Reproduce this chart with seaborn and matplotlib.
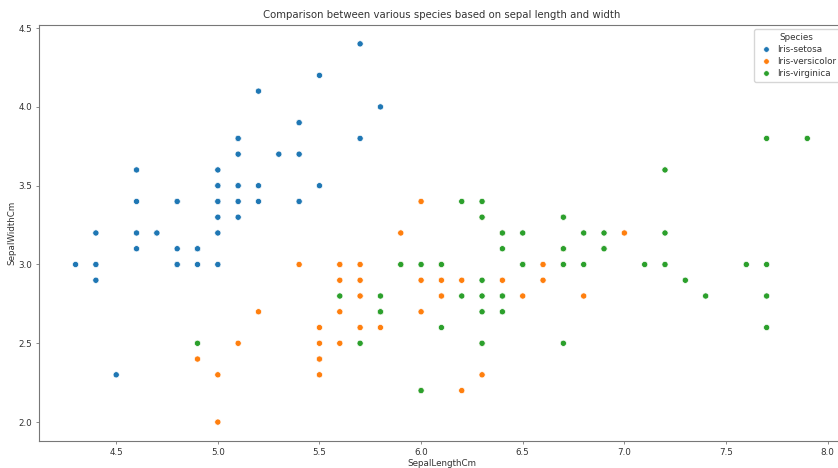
import pandas as pd
import seaborn as sns
import matplotlib.pyplot as plt

# Iris data (UCI version), sepal length / width per species
setosa_len = [5.1, 4.9, 4.7, 4.6, 5.0, 5.4, 4.6, 5.0, 4.4, 4.9, 5.4, 4.8, 4.8, 4.3, 5.8, 5.7, 5.4,
              5.1, 5.7, 5.1, 5.4, 5.1, 4.6, 5.1, 4.8, 5.0, 5.0, 5.2, 5.2, 4.7, 4.8, 5.4, 5.2, 5.5,
              4.9, 5.0, 5.5, 4.9, 4.4, 5.1, 5.0, 4.5, 4.4, 5.0, 5.1, 4.8, 5.1, 4.6, 5.3, 5.0]
setosa_wid = [3.5, 3.0, 3.2, 3.1, 3.6, 3.9, 3.4, 3.4, 2.9, 3.1, 3.7, 3.4, 3.0, 3.0, 4.0, 4.4, 3.9,
              3.5, 3.8, 3.8, 3.4, 3.7, 3.6, 3.3, 3.4, 3.0, 3.4, 3.5, 3.4, 3.2, 3.1, 3.4, 4.1, 4.2,
              3.1, 3.2, 3.5, 3.1, 3.0, 3.4, 3.5, 2.3, 3.2, 3.5, 3.8, 3.0, 3.8, 3.2, 3.7, 3.3]
versicolor_len = [7.0, 6.4, 6.9, 5.5, 6.5, 5.7, 6.3, 4.9, 6.6, 5.2, 5.0, 5.9, 6.0, 6.1, 5.6, 6.7, 5.6,
                  5.8, 6.2, 5.6, 5.9, 6.1, 6.3, 6.1, 6.4, 6.6, 6.8, 6.7, 6.0, 5.7, 5.5, 5.5, 5.8, 6.0,
                  5.4, 6.0, 6.7, 6.3, 5.6, 5.5, 5.5, 6.1, 5.8, 5.0, 5.6, 5.7, 5.7, 6.2, 5.1, 5.7]
versicolor_wid = [3.2, 3.2, 3.1, 2.3, 2.8, 2.8, 3.3, 2.4, 2.9, 2.7, 2.0, 3.0, 2.2, 2.9, 2.9, 3.1, 3.0,
                  2.7, 2.2, 2.5, 3.2, 2.8, 2.5, 2.8, 2.9, 3.0, 2.8, 3.0, 2.9, 2.6, 2.4, 2.4, 2.7, 2.7,
                  3.0, 3.4, 3.1, 2.3, 3.0, 2.5, 2.6, 3.0, 2.6, 2.3, 2.7, 3.0, 2.9, 2.9, 2.5, 2.8]
virginica_len = [6.3, 5.8, 7.1, 6.3, 6.5, 7.6, 4.9, 7.3, 6.7, 7.2, 6.5, 6.4, 6.8, 5.7, 5.8, 6.4, 6.5,
                 7.7, 7.7, 6.0, 6.9, 5.6, 7.7, 6.3, 6.7, 7.2, 6.2, 6.1, 6.4, 7.2, 7.4, 7.9, 6.4, 6.3,
                 6.1, 7.7, 6.3, 6.4, 6.0, 6.9, 6.7, 6.9, 5.8, 6.8, 6.7, 6.7, 6.3, 6.5, 6.2, 5.9]
virginica_wid = [3.3, 2.7, 3.0, 2.9, 3.0, 3.0, 2.5, 2.9, 2.5, 3.6, 3.2, 2.7, 3.0, 2.5, 2.8, 3.2, 3.0,
                 3.8, 2.6, 2.2, 3.2, 2.8, 2.8, 2.7, 3.3, 3.2, 2.8, 3.0, 2.8, 3.0, 2.8, 3.8, 2.8, 2.8,
                 2.6, 3.0, 3.4, 3.1, 3.0, 3.1, 3.1, 3.1, 2.7, 3.2, 3.3, 3.0, 2.5, 3.0, 3.4, 3.0]

species = ['Iris-setosa', 'Iris-versicolor', 'Iris-virginica']

df = pd.DataFrame({
    'SepalLengthCm': setosa_len + versicolor_len + virginica_len,
    'SepalWidthCm': setosa_wid + versicolor_wid + virginica_wid,
    'Species': [species[0]] * len(setosa_len) + [species[1]] * len(versicolor_len)
               + [species[2]] * len(virginica_len),
})

plt.rcParams['axes.edgecolor'] = '#777777'
plt.rcParams['xtick.color'] = '#777777'
plt.rcParams['ytick.color'] = '#777777'
plt.rcParams['xtick.labelcolor'] = '#333333'
plt.rcParams['ytick.labelcolor'] = '#333333'
plt.rcParams['text.color'] = '#333333'
plt.rcParams['axes.labelcolor'] = '#333333'

fig = plt.figure(figsize=(8.38, 4.68), dpi=100)
ax = fig.add_axes([0.0465, 0.0577, 0.9605, 0.889])
ax.spines['right'].set_visible(False)

sns.scatterplot(data=df, x='SepalLengthCm', y='SepalWidthCm', hue='Species',
                s=20, linewidth=0.5, ax=ax)

ax.set_title('Comparison between various species based on sepal length and width',
             fontsize=7.3, pad=5)
ax.set_xlabel('SepalLengthCm', fontsize=6.3, labelpad=1.5)
ax.set_ylabel('SepalWidthCm', fontsize=6.3, labelpad=1.5)
ax.tick_params(labelsize=6.3, width=0.6, length=2.5, pad=2.5)
leg = ax.legend(title='Species', loc='upper right', fontsize=6.3, title_fontsize=6.3,
                markerscale=0.9, handletextpad=0.2, borderpad=0.4, labelspacing=0.35)

fig.savefig('out.png', dpi=100)
